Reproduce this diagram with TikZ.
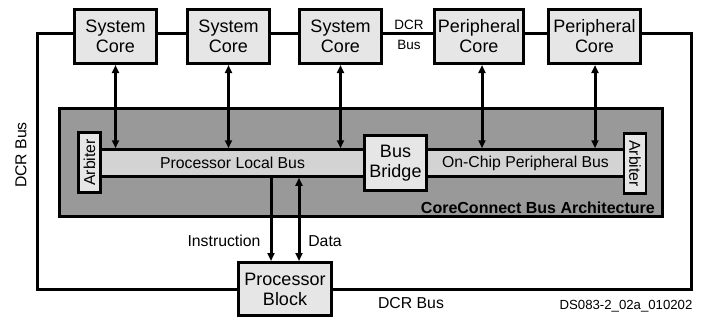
\documentclass[tikz,border=0pt]{standalone}
\usepackage{fontspec}
\setmainfont{Liberation Sans}
\usetikzlibrary{arrows.meta,backgrounds,calc}
\definecolor{boxfill}{HTML}{E6E6E6}
\definecolor{barfill}{HTML}{D3D3D3}
\definecolor{archfill}{HTML}{999999}
\tikzset{
  core/.style={draw=black, line width=3pt, fill=boxfill, minimum height=54pt, align=center, font=\fontsize{18}{20}\selectfont, inner sep=0pt},
  arch/.style={draw=black, line width=3pt, fill=archfill, inner sep=0pt},
  busbar/.style={draw=black, line width=2.5pt, fill=barfill, minimum height=27pt, inner sep=0pt, font=\fontsize{15.8}{18}\selectfont},
  arb/.style={draw=black, line width=2.5pt, fill=boxfill, minimum width=22pt, minimum height=60pt, inner sep=0pt, font=\fontsize{15.8}{18}\selectfont},
  dcr/.style={line width=3pt, line cap=rect},
  link/.style={line width=3pt, {Triangle[length=8pt,width=7pt]}-{Triangle[length=8pt,width=7pt]}},
  dlink/.style={line width=3pt, -{Triangle[length=8pt,width=7pt]}},
  lbl/.style={font=\fontsize{15.8}{18}\selectfont, inner sep=0pt},
}
\begin{document}
\begin{tikzpicture}[x=1pt,y=-1pt]
\useasboundingbox (0,0) rectangle (706,324);
% top cores
\node[core, minimum width=82pt] (sc1) at (115.5,36.5) {System\\Core};
\node[core, minimum width=82pt] (sc2) at (228.5,36.5) {System\\Core};
\node[core, minimum width=82pt] (sc3) at (340.5,36.5) {System\\Core};
\node[core, minimum width=89pt] (pc1) at (479,36.5) {Peripheral\\Core};
\node[core, minimum width=92pt] (pc2) at (594.5,36.5) {Peripheral\\Core};
% architecture
\node[arch, minimum width=603pt, minimum height=108pt] (cc) at (361,162.5) {};
\node[busbar, minimum width=263pt] (plb) at (232.5,163) {Processor Local Bus};
\node[busbar, minimum width=197pt] (opb) at (525.5,163) {On-Chip Peripheral Bus};
\node[arb] (arbl) at (89.5,162.5) {\rotatebox{90}{Arbiter}};
\node[arb] (arbr) at (635,163.5) {\rotatebox{-90}{Arbiter}};
\node[core, minimum width=62pt, minimum height=55pt] (bb) at (395.5,163) {Bus\\Bridge};
\node[font=\bfseries\fontsize{16}{18}\selectfont, anchor=east, inner sep=0pt] (cclbl) at (655,208) {CoreConnect Bus Architecture};
% processor block
\node[core, minimum width=93pt, minimum height=53pt] (pb) at (285,289) {Processor\\Block};
% DCR bus
\coordinate (dcrY) at (0,33);
\coordinate (lc) at (37,289);
\coordinate (rc) at (691,289);
\begin{scope}[on background layer]
\draw[dcr] (sc1.west |- dcrY) -| (lc) -- (pb.west);
\draw[dcr] (pc2.east |- dcrY) -| (rc) -- (pb.east);
\draw[dcr] (sc1.east |- dcrY) -- (sc2.west |- dcrY);
\draw[dcr] (sc2.east |- dcrY) -- (sc3.west |- dcrY);
\draw[dcr] (sc3.east |- dcrY) -- (pc1.west |- dcrY);
\draw[dcr] (pc1.east |- dcrY) -- (pc2.west |- dcrY);
\end{scope}
% core links
\draw[link] (sc1.south) -- (sc1.south |- plb.north);
\draw[link] (sc2.south) -- (sc2.south |- plb.north);
\draw[link] (sc3.south) -- (sc3.south |- plb.north);
\coordinate (p1x) at (482,0);
\coordinate (p2x) at (595,0);
\draw[link] (pc1.south -| p1x) -- (p1x |- opb.north);
\draw[link] (pc2.south -| p2x) -- (p2x |- opb.north);
% processor links
\coordinate (ix) at (271,0);
\coordinate (dx) at (299,0);
\draw[dlink] (plb.south -| ix) -- (pb.north -| ix);
\draw[link] (plb.south -| dx) -- (pb.north -| dx);
% labels
\node[lbl, rotate=90] (ldcr) at (21,155) {DCR Bus};
\node[font=\fontsize{13.5}{20}\selectfont, align=center, inner sep=0pt] (tdcr) at (409,34.5) {DCR\\Bus};
\node[lbl] (bdcr) at (411,303) {DCR Bus};
\node[lbl] (instr) at (224,241) {Instruction};
\node[lbl] (data) at (325,241) {Data};
\node[font=\fontsize{13.2}{16}\selectfont, inner sep=0pt] (ds) at (626,306) {DS083-2\_02a\_010202};
\end{tikzpicture}
\end{document}
